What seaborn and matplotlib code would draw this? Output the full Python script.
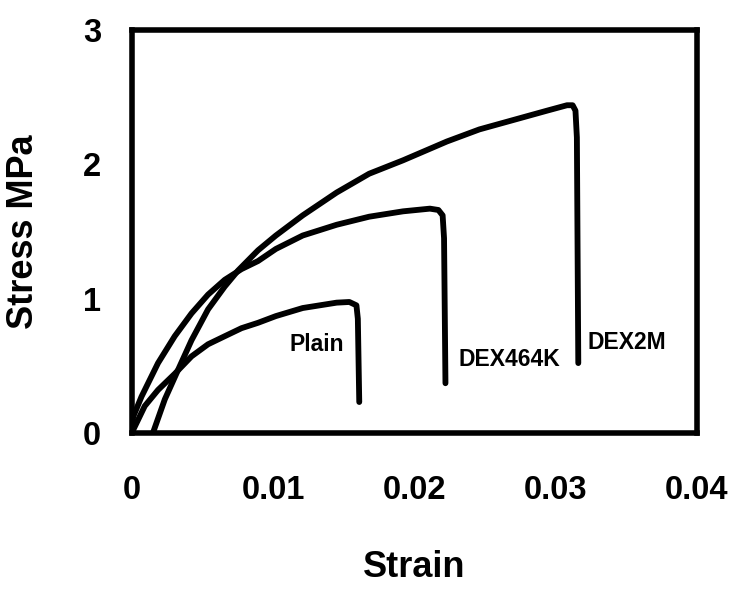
import matplotlib
matplotlib.use("Agg")
import matplotlib.pyplot as plt
import pandas as pd
import seaborn as sns

# Stress-strain curves for plain and dextran-modified samples
plain_strain = [0.0, 0.00092, 0.00186, 0.00304, 0.00423, 0.0054, 0.00658, 0.00777, 0.00894,
                0.0102, 0.0121, 0.0145, 0.0154, 0.0159, 0.0160, 0.0161]
plain_stress = [0.0, 0.20, 0.32, 0.44, 0.57, 0.66, 0.72, 0.78, 0.82,
                0.87, 0.93, 0.97, 0.975, 0.95, 0.85, 0.23]

dex464k_strain = [0.0, 0.0001, 0.00069, 0.00186, 0.00304, 0.00423, 0.0054, 0.00658, 0.00777,
                  0.00894, 0.0102, 0.0121, 0.0145, 0.0168, 0.0192, 0.0211, 0.0217, 0.0220,
                  0.0221, 0.0222]
dex464k_stress = [0.0, 0.12, 0.27, 0.52, 0.72, 0.89, 1.03, 1.14, 1.22,
                  1.28, 1.37, 1.47, 1.55, 1.61, 1.65, 1.67, 1.66, 1.62,
                  1.45, 0.37]

dex2m_strain = [0.0015, 0.00234, 0.00328, 0.00423, 0.0054, 0.00658, 0.00753, 0.00894, 0.0102,
                0.0121, 0.0145, 0.0168, 0.0192, 0.0223, 0.0246, 0.0270, 0.0294, 0.0308,
                0.0312, 0.0314, 0.0315, 0.0316]
dex2m_stress = [0.0, 0.25, 0.47, 0.69, 0.92, 1.09, 1.21, 1.36, 1.47,
                1.62, 1.79, 1.93, 2.03, 2.17, 2.26, 2.33, 2.40, 2.44,
                2.44, 2.40, 2.20, 0.52]

series_names = ["Plain", "DEX464K", "DEX2M"]
label_strain = [0.0131, 0.0267, 0.0350]
label_stress = [0.655, 0.55, 0.67]

x_ticks = [0, 0.01, 0.02, 0.03, 0.04]
x_tick_labels = ["0", "0.01", "0.02", "0.03", "0.04"]
y_ticks = [0, 1, 2, 3]

frames = []
for name, xs, ys in zip(series_names,
                        [plain_strain, dex464k_strain, dex2m_strain],
                        [plain_stress, dex464k_stress, dex2m_stress]):
    frames.append(pd.DataFrame({"Strain": xs, "Stress": ys, "Sample": name}))
df = pd.concat(frames, ignore_index=True)

sns.set_theme(style="white")
plt.rcParams["font.family"] = ["Liberation Sans", "DejaVu Sans"]
plt.rcParams["font.weight"] = "bold"

fig = plt.figure(figsize=(7.36, 5.89), dpi=100)
ax = fig.add_axes([0.179, 0.265, 0.768, 0.684])

sns.lineplot(data=df, x="Strain", y="Stress", hue="Sample", units="Sample",
             estimator=None, sort=False, palette=["black"] * 3, linewidth=4.2,
             legend=False, ax=ax, solid_joinstyle="round", solid_capstyle="round")

for name, sx, sy in zip(series_names, label_strain, label_stress):
    ax.text(sx, sy, name, ha="center", va="center", fontsize=16.5,
            fontweight="bold", color="black")

ax.set_xlim(0, 0.04)
ax.set_ylim(0, 3)
ax.set_xticks(x_ticks)
ax.set_xticklabels(x_tick_labels)
ax.set_yticks(y_ticks)
ax.tick_params(axis="both", direction="in", length=9, width=3, color="black",
               labelsize=23.5, labelcolor="black")
ax.tick_params(axis="x", pad=30)
ax.tick_params(axis="y", pad=22)
for lbl in ax.get_xticklabels() + ax.get_yticklabels():
    lbl.set_fontweight("bold")

for sp in ax.spines.values():
    sp.set_visible(True)
    sp.set_color("black")
    sp.set_linewidth(4)

ax.set_xlabel("Strain", fontsize=26, fontweight="bold", labelpad=32, color="black")
ax.set_ylabel("Stress MPa", fontsize=26, fontweight="bold", labelpad=30, color="black")

fig.savefig("out.png", dpi=100, facecolor="white")
